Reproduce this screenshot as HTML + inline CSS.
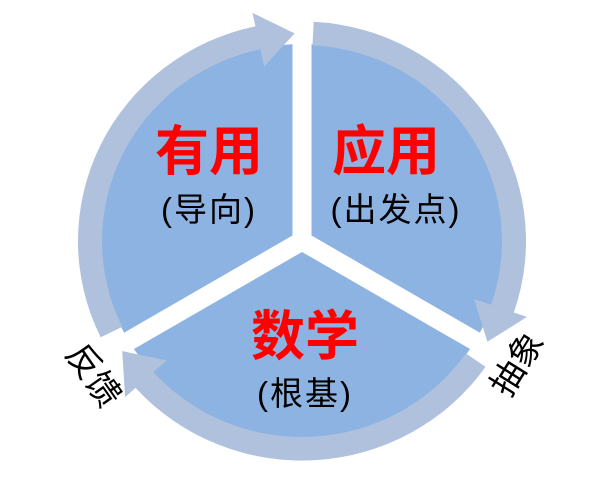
<!DOCTYPE html>
<html><head><meta charset="utf-8"><style>
html,body{margin:0;padding:0;background:#fff;}
svg{display:block;}
text{font-family:"Liberation Sans","Noto Sans CJK SC",sans-serif;}
</style></head><body>
<svg width="602" height="486" viewBox="0 0 602 486" xmlns="http://www.w3.org/2000/svg">
<g transform="translate(302,241) scale(1,0.98)">
  <circle r="201" fill="#8db3e2"/>
</g>
<g transform="translate(302,241)" stroke="#fff" stroke-width="19" stroke-linecap="butt">
  <line x1="0" y1="0" x2="0" y2="-240"/>
  <line x1="0" y1="0" x2="-220" y2="127"/>
  <line x1="0" y1="0" x2="220" y2="127"/>
</g>
<g transform="translate(302,241) scale(1,0.98)" fill="#b0c1dd" id="arrows"></g>
<script>
(function(){
  var g=document.getElementById('arrows');
  var ns='http://www.w3.org/2000/svg';
  function p(r,a){a=a*Math.PI/180;return [r*Math.cos(a),r*Math.sin(a)];}
  function arrow(s,e){
    var b=e-10, ri=200, ro=224, rm=212;
    var a1=p(ro,s),a2=p(ro,b),a3=p(ri,b),a4=p(ri,s);
    var large=(b-s)>180?1:0;
    var d='M'+a1+' A'+ro+','+ro+' 0 '+large+' 1 '+a2+' L'+p(238,b)+' L'+p(rm,e)+' L'+p(182,b)+' L'+a3+' A'+ri+','+ri+' 0 '+large+' 0 '+a4+' Z';
    var path=document.createElementNS(ns,'path');path.setAttribute('d',d);g.appendChild(path);
  }
  arrow(154,268);
  arrow(273,29);
  arrow(35,148);
})();
</script>
<g font-weight="bold" fill="#ff0000" font-size="54" text-anchor="middle">
  <text x="209" y="170">有用</text>
  <text x="386" y="170">应用</text>
  <text x="305" y="355">数学</text>
</g>
<g fill="#000" font-size="33" text-anchor="middle">
  <text x="209" y="221" letter-spacing="2">(导向)</text>
  <text x="396" y="221" letter-spacing="2">(出发点)</text>
  <text x="305" y="405" letter-spacing="2">(根基)</text>
</g>
<text x="0" y="0" font-size="34" fill="#000" text-anchor="middle" transform="translate(84,382) rotate(55)">反馈</text>
<text x="0" y="0" font-size="34" fill="#000" text-anchor="middle" transform="translate(527,370) rotate(-58)">抽象</text>
</svg>
</body></html>
